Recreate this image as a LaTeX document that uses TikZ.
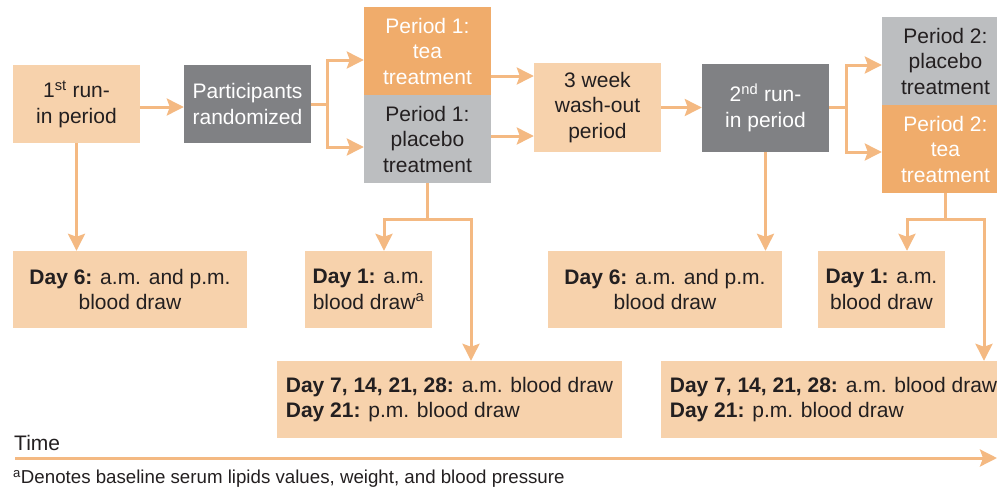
\documentclass[tikz,border=0pt]{standalone}
\usepackage{fontspec}
\setmainfont{Liberation Sans}
\usepackage{tikz}
\usetikzlibrary{arrows.meta,positioning}
\definecolor{peach}{HTML}{F7D2AC}
\definecolor{teaorange}{HTML}{F0AC6B}
\definecolor{darkgrey}{HTML}{808184}
\definecolor{lightgrey}{HTML}{BCBEC0}
\definecolor{linkline}{HTML}{F4B982}
\definecolor{ink}{HTML}{231F20}
\tikzstyle{period} = [inner sep=0pt, align=center, minimum width=127pt,
    minimum height=88pt, text=ink]
\tikzstyle{runin} = [period, fill=peach, minimum height=78pt]
\tikzstyle{randbox} = [period, fill=darkgrey, text=white, minimum height=78pt]
\tikzstyle{teabox} = [period, fill=teaorange, text=white]
\tikzstyle{placebox} = [period, fill=lightgrey]
\tikzstyle{drawbox} = [period, fill=peach, minimum height=77pt]
\tikzstyle{link} = [draw=linkline, line width=3pt]
\tikzstyle{arr} = [link, -{Stealth[length=17pt,width=17pt,inset=3pt]}]

\begin{document}
\begin{tikzpicture}[x=1pt, y=1pt, font=\fontsize{21}{25.5}\selectfont, node distance=171pt]
  \clip (0,0) rectangle (997,-491);
  \node [runin] (run1) at (76.5,-104) {1\textsuperscript{st} run-\\in period};
  \node [randbox, right of=run1] (rand) {Participants\\randomized};
  \node [teabox] (tea1) at (427.5,-51) {Period 1:\\tea\\treatment};
  \node [placebox, below of=tea1, node distance=88pt] (plac1) {Period 1:\\placebo\\treatment};
  \node [runin, minimum height=89pt] (wash) at (597.5,-107.5) {3 week\\wash-out\\period};
  \node [randbox, minimum height=88pt, right of=wash, node distance=168pt] (run2) {2\textsuperscript{nd} run-\\in period};
  \node [placebox] (plac2) at (945.5,-61) {Period 2:\\placebo\\treatment};
  \node [teabox, below of=plac2, node distance=88pt] (tea2) {Period 2:\\tea\\treatment};

  \node [drawbox, minimum width=234pt] (day6a) at (130,-289.5) {\textbf{Day 6:} a.m. and p.m.\\blood draw};
  \node [drawbox] (day1a) at (368.5,-289.5) {\textbf{Day 1:} a.m.\\blood draw\textsuperscript{a}};
  \node [drawbox, minimum width=234pt] (day6b) at (665,-289.5) {\textbf{Day 6:} a.m. and p.m.\\blood draw};
  \node [drawbox] (day1b) at (881.5,-289.5) {\textbf{Day 1:} a.m.\\blood draw};
  \node [drawbox, minimum width=345pt, align=left] (day7a) at (449.5,-399.5)
    {\textbf{Day 7, 14, 21, 28:} a.m. blood draw\\\textbf{Day 21:} p.m. blood draw};
  \node [drawbox, minimum width=345pt, align=left, right of=day7a, node distance=384pt] (day7b)
    {\textbf{Day 7, 14, 21, 28:} a.m. blood draw\\\textbf{Day 21:} p.m. blood draw};

  % time axis and note
  \node [anchor=west, inner sep=0pt, text=ink] (time) at (14,-443) {Time};
  \coordinate (t0) at (15,-458);
  \coordinate (tend) at (997,-458);
  \draw [arr] (t0) -- (tend);
  \node [anchor=west, inner sep=0pt, text=ink, font=\fontsize{18.7}{22}\selectfont] (note) at (13,-479)
    {\textsuperscript{a}Denotes baseline serum lipids values, weight, and blood pressure};

  % main flow
  \draw [arr] ([yshift=-3pt]run1.east) -- ([yshift=-3pt]rand.west);
  \draw [link] (rand.east) -- ++(16pt,0) coordinate (fork1);
  \draw [arr] (fork1) |- ([yshift=-9pt]tea1.west);
  \draw [arr] (fork1) |- ([yshift=-8pt]plac1.west);
  \draw [arr] ([yshift=-25pt]tea1.east) -- ([yshift=31.5pt]wash.west);
  \draw [arr] ([yshift=3pt]plac1.east) -- ([yshift=-28.5pt]wash.west);
  \draw [arr] (wash) -- (run2);
  \draw [link] (run2.east) -- ++(17pt,0) coordinate (fork2);
  \draw [arr] (fork2) |- ([yshift=-4pt]plac2.west);
  \draw [arr] (fork2) |- ([yshift=-3pt]tea2.west);

  % blood draws
  \draw [arr] (run1.south) -- (run1.south |- day6a.north);
  \draw [link] (plac1.south) -- ++(0,-36pt) coordinate (fork3);
  \draw [arr] (fork3) -| ([xshift=15.5pt]day1a.north);
  \draw [arr] (fork3) -| ([xshift=21.5pt]day7a.north);
  \draw [arr] (run2.south) -- (run2.south |- day6b.north);
  \draw [link] (tea2.south) -- ++(0,-26pt) coordinate (fork4);
  \draw [arr] (fork4) -| ([xshift=25.5pt]day1b.north);
  \draw [arr] (fork4) -| ([xshift=150.5pt]day7b.north);
\end{tikzpicture}
\end{document}
